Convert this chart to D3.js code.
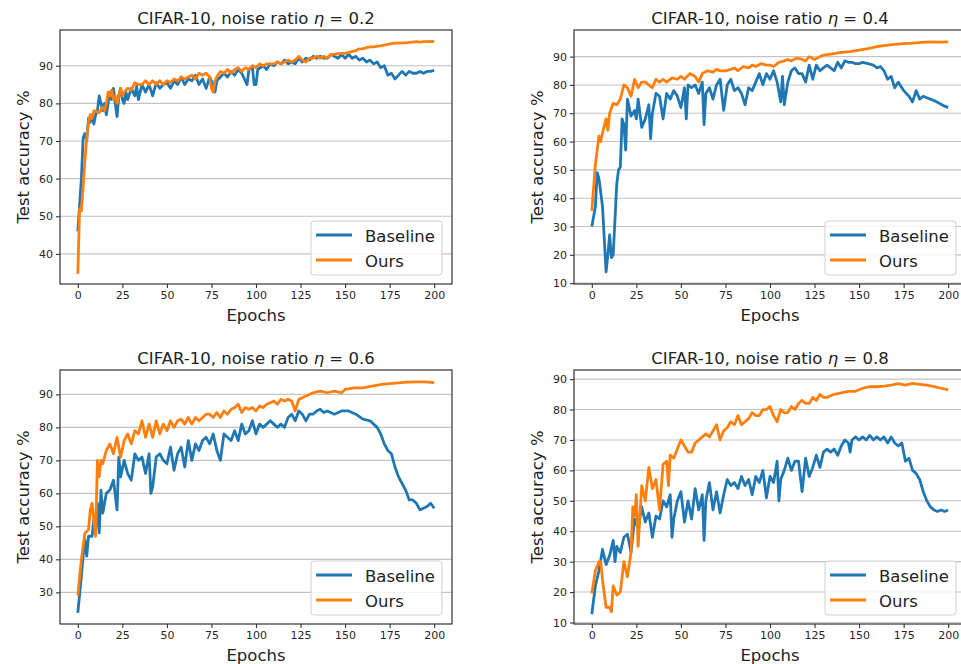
<!DOCTYPE html>
<html><head><meta charset="utf-8">
<script src="https://cdn.jsdelivr.net/npm/d3@7"></script>
<style>body{margin:0;background:#fff}text{font-family:"DejaVu Sans",sans-serif}</style>
</head><body><svg id="c" width="961" height="664"></svg>
<script>
const seriesNames = ["Baseline", "Ours"];
const noiseRatios = ["0.2", "0.4", "0.6", "0.8"];
const xTicks = [0, 25, 50, 75, 100, 125, 150, 175, 200];
const yTicks02 = [40, 50, 60, 70, 80, 90];
const yTicks04 = [10, 20, 30, 40, 50, 60, 70, 80, 90];
const yTicks06 = [30, 40, 50, 60, 70, 80, 90];
const yTicks08 = [10, 20, 30, 40, 50, 60, 70, 80, 90];

// [epoch, test accuracy %]
const base02 = [[0,46],[1,53],[2,60],[3,71],[4,72],[5,70],[6,76],[7,75],[8,77],[9,74.5],[10,77],[11,78],[12,82],[13,80],[14,78],[15,80],[16,77],[17,80],[18,83],[19,81],[20,84],[21,80],[22,76.5],[23,82],[24,84],[25,81],[26,80],[27,83],[28,81],[30,84],[32,82],[33,84.5],[34,81],[36,85],[38,83],[40,85],[42,82],[44,85.5],[46,84],[48,85],[50,85.5],[52,84],[54,86],[56,85],[58,87],[60,85],[62,86.5],[64,86],[66,87.5],[68,85],[70,86.5],[72,84],[74,87],[76,85],[77,83],[78,86],[80,87],[82,88],[84,87],[86,88.5],[88,87.5],[90,89],[92,88],[94,86],[95,85],[96,89],[98,89.5],[99,85],[100,85],[101,89],[104,90],[106,89],[108,90.5],[110,90],[112,91],[114,90.5],[116,91.5],[118,90.5],[120,91],[122,90.5],[124,92],[126,91],[128,92],[130,91.5],[132,92.5],[134,92],[136,92.5],[138,92],[140,92],[142,93],[144,92.5],[146,92],[148,93],[150,92],[152,93],[154,92],[156,92.5],[158,91.5],[160,92],[162,91],[164,91.5],[166,90.5],[168,91],[170,89.5],[172,90],[174,87.5],[176,88],[178,86.5],[180,87.5],[182,88.5],[184,87.5],[186,88.5],[188,88],[190,88],[192,88.5],[194,88],[196,88.5],[198,88.5],[200,88.8]];
const ours02 = [[0,34.7],[1,52],[2,51.5],[3,58],[4,65],[5,71],[6,75],[7,77],[8,76],[9,78],[10,78],[12,77.5],[14,79],[15,78],[16,80],[17,83],[18,82],[19,83.5],[20,81],[21,82],[22,80],[24,84],[25,82],[26,83],[28,84],[30,83.5],[32,85.5],[34,85],[36,85],[38,86],[40,85],[42,86],[44,85],[46,86],[48,85],[50,86],[52,85.5],[54,86.5],[56,86],[58,87],[60,86.5],[62,87],[64,87.5],[66,86.5],[68,88],[70,87.5],[72,88],[74,87],[75,84],[76,83],[77,86],[78,87],[80,88.5],[82,88],[84,89],[86,88],[88,89],[90,89.5],[92,88.5],[94,89.5],[96,89],[98,90],[100,89.5],[102,90.5],[104,90],[106,90.5],[108,90.5],[110,90.5],[112,91],[114,90.5],[116,91],[118,91.5],[120,91],[122,91.5],[124,92.5],[126,91.5],[128,91],[130,92],[132,92],[134,92.5],[136,92],[138,92.5],[140,92],[142,93],[144,93],[146,93.2],[148,93.3],[150,93.3],[152,93.5],[154,93.8],[156,94],[158,94.5],[160,94.5],[162,94.8],[164,95],[166,95],[168,95.2],[170,95.3],[172,95.5],[174,95.7],[176,95.9],[178,96],[180,96],[182,96.1],[184,96.1],[186,96.2],[188,96.3],[190,96.4],[192,96.3],[194,96.4],[196,96.4],[198,96.5],[200,96.4]];

const base04 = [[0,30],[2,37],[3,49],[4,47],[6,37],[8,14],[9,20],[10,27],[11,19],[12,20],[14,45],[15,50],[16,51],[17,68],[18,66],[19,57],[20,75],[22,69],[24,71],[25,68],[26,75],[28,65],[30,68],[32,73],[33,61],[34,70],[36,77],[38,76],[40,68],[42,77],[44,75],[46,78],[48,76],[50,72],[52,79],[53,68],[54,80],[56,79],[58,80],[60,77],[62,81],[63,66],[64,77],[66,79],[68,75],[70,80],[72,82],[74,71],[76,80],[78,82],[80,78],[82,79],[84,77],[86,73],[88,79],[90,78],[92,81],[94,84],[96,80],[98,84],[100,82],[102,85],[104,81],[106,74],[107,83],[108,73],[110,81],[112,85],[114,86],[116,84],[118,84],[120,81],[122,87],[124,82],[126,87],[128,85],[130,86],[132,87],[134,86],[136,85],[138,88],[140,86],[142,88.5],[144,88],[146,88],[148,87.5],[150,87.5],[152,88],[155,87.5],[158,87],[160,86],[162,86.5],[164,85],[166,82],[168,83],[170,79],[172,81],[174,79],[175,78],[178,76],[180,74],[182,78],[184,75],[186,76],[188,75.5],[190,75],[192,74.5],[195,73.5],[198,72.5],[200,72]];
const ours04 = [[0,35.5],[2,52],[4,62],[5,60],[6,63],[8,68],[9,64],[10,70],[12,73.5],[14,73],[16,75],[18,80],[20,79],[22,76],[24,82],[26,79],[28,81],[30,81],[32,80],[34,79],[36,82],[38,81],[40,82],[42,81],[45,82.5],[48,82],[50,83],[52,82],[55,84],[58,83],[60,81],[62,84],[65,85],[68,84.5],[70,85.5],[72,85],[75,85],[78,85.5],[80,86],[82,85],[85,86.5],[88,86],[90,87],[92,86.5],[95,87.5],[98,87],[100,87],[102,86.5],[105,88],[108,88.5],[110,89],[112,88.5],[115,89.5],[118,89],[120,88.5],[122,90],[125,89],[128,90],[130,90.5],[135,91],[140,91.5],[145,91.8],[150,92.3],[155,92.8],[160,93.5],[165,94],[170,94.3],[175,94.6],[180,94.8],[185,95],[190,95.2],[195,95.1],[200,95.2]];

const base06 = [[0,23.8],[2,35],[3,41],[4,46],[5,41],[6,47],[8,47],[9,52],[10,49],[11,57],[12,48],[13,61],[14,54],[16,60],[18,61],[20,64],[22,55],[23,71],[24,65],[26,70],[28,66],[30,64],[32,72],[34,70],[36,71],[38,66],[40,72],[41,60],[42,62],[44,71],[46,72],[48,70],[50,69],[52,74],[54,67],[56,72],[58,74],[60,68],[62,76],[64,70],[66,75],[68,73],[70,76],[72,77],[74,75],[76,78],[78,73],[80,70],[82,78],[84,77],[86,76],[88,79],[90,76],[92,81],[94,78],[96,79],[98,82],[100,78],[102,81],[104,80],[106,81],[108,82],[110,81],[112,80],[114,81],[116,80],[118,83],[120,84],[122,82],[124,85],[126,84],[128,82],[130,84],[132,84],[134,85],[136,85.5],[138,84.5],[140,85],[144,84],[148,85],[152,85],[156,84],[160,82.5],[164,82],[166,81],[168,80],[170,78],[172,75],[174,73],[176,72],[178,68],[180,65],[182,63],[184,61],[186,58],[188,58],[190,57],[192,55],[194,55.5],[196,56],[198,57],[200,55.5]];
const ours06 = [[0,29],[2,40],[4,48],[6,49],[7,55],[8,57],[10,47],[11,70],[12,65],[13,70],[14,69],[16,73],[18,75],[20,72],[22,77],[24,71],[26,76],[28,78],[30,75],[32,79],[34,78],[36,82],[38,77],[40,81],[42,77],[44,82],[46,78],[48,81],[50,79],[52,82],[54,80],[56,82],[58,82.5],[60,81],[62,83],[64,81],[66,83],[68,82],[70,83],[72,84],[74,84],[76,83],[78,84.5],[80,83],[82,85],[84,84],[86,85.5],[88,86],[90,87],[92,84.5],[94,86],[96,85.5],[98,86],[100,85],[102,86.5],[104,86],[106,87],[108,87.5],[110,88],[112,87],[114,88.5],[116,88],[118,88.5],[120,88],[122,85],[124,88.5],[126,89],[128,89.5],[130,90],[132,90.5],[136,91],[140,90.5],[144,91],[148,90.5],[150,91.5],[155,92],[160,92],[165,92.5],[170,93],[175,93.3],[180,93.5],[185,93.7],[190,93.8],[195,93.8],[200,93.6]];

const base08 = [[0,12.7],[2,22],[4,27],[6,34],[8,29],[10,32],[12,37],[13,30],[14,35],[16,33],[18,38],[20,39],[22,33],[24,44],[26,41],[28,48],[30,43],[32,46],[34,38],[36,45],[38,44],[40,50],[42,48],[44,52],[45,38],[46,44],[48,50],[50,53],[52,43],[54,50],[56,44],[58,54],[60,47],[62,52],[63,37],[64,50],[66,56],[68,47],[70,53],[72,46],[74,52],[76,57],[78,55],[80,56],[82,54],[84,58],[86,55],[88,57],[90,52],[92,58],[94,56],[96,60],[98,51],[100,58],[102,56],[104,63],[105,50],[106,57],[108,60],[110,64],[112,60],[114,63],[116,63],[118,53],[120,64],[122,58],[124,61],[126,65],[128,61],[130,66],[132,67],[134,66],[136,67],[138,65],[140,68],[142,70],[144,69],[145,66],[146,70],[148,71],[150,70],[152,71],[154,70],[156,71.5],[158,70],[160,71],[162,70],[164,71],[166,69],[168,71],[170,69],[172,68],[174,69],[176,63],[178,64],[180,60],[182,59],[184,57],[186,53],[188,50],[190,48],[192,47],[194,46.5],[196,47],[198,46.5],[200,47]];
const ours08 = [[0,19.5],[2,27],[4,30],[5,30],[6,24],[8,15],[10,15],[11,13.5],[12,22],[14,19],[16,20],[18,30],[20,25],[22,33],[23,48],[24,45],[25,52],[26,35],[28,55],[30,50],[32,61],[34,54],[36,57],[38,47],[40,62],[42,63],[43,55],[44,65],[46,64],[48,67],[50,70],[52,68],[54,66],[56,66],[58,69],[60,70],[62,71],[64,72],[66,71],[68,73],[70,75],[72,70],[74,73],[76,74],[78,76],[80,75],[82,78],[84,75],[86,76],[88,77],[90,79],[92,78],[94,78],[96,80],[98,80],[100,81],[102,78],[104,76],[106,80],[108,79],[110,79],[112,81],[114,80],[116,82],[118,83],[120,82],[122,82],[124,84],[126,83],[128,85],[130,84],[132,84],[136,85],[140,85.5],[144,86],[148,86],[152,87],[156,87.5],[160,87.5],[164,87.7],[168,88],[172,88.5],[176,88],[180,88.6],[184,88.3],[188,88],[192,87.5],[196,87],[200,86.5]];

const colors = ["#1f77b4", "#ff7f0e"];

const panels = [
  {eta: noiseRatios[0], data: [base02, ours02], ydom: [32, 99.5], yticks: yTicks02, x: 60, y: 30},
  {eta: noiseRatios[1], data: [base04, ours04], ydom: [9.7, 99.4], yticks: yTicks04, x: 574, y: 30},
  {eta: noiseRatios[2], data: [base06, ours06], ydom: [20.4, 97.4], yticks: yTicks06, x: 60, y: 370},
  {eta: noiseRatios[3], data: [base08, ours08], ydom: [9.5, 93], yticks: yTicks08, x: 574, y: 370}
];
const W = 392, H = 254;
const svg = d3.select("#c");
const defs = svg.append("defs");

panels.forEach((p, i) => {
  const g = svg.append("g").attr("transform", `translate(${p.x},${p.y})`);
  const x = d3.scaleLinear().domain([-10, 210]).range([0, W]);
  const y = d3.scaleLinear().domain(p.ydom).range([H, 0]);
  defs.append("clipPath").attr("id", "clip" + i).append("rect").attr("width", W).attr("height", H);

  // grid
  g.append("g").selectAll("line").data(p.yticks).join("line")
    .attr("x1", 0).attr("x2", W).attr("y1", d => y(d)).attr("y2", d => y(d))
    .attr("stroke", "#b0b0b0").attr("stroke-width", 1.1).attr("opacity", 0.75);

  const line = d3.line().x(d => x(d[0])).y(d => y(d[1]));
  p.data.forEach((s, k) => {
    g.append("path").datum(s).attr("d", line).attr("clip-path", `url(#clip${i})`)
      .attr("fill", "none").attr("stroke", colors[k]).attr("stroke-width", 2.8)
      .attr("stroke-linejoin", "round");
  });

  // axes
  const ya = g.append("g").call(d3.axisLeft(y).tickValues(p.yticks).tickSize(4).tickPadding(3));
  const xa = g.append("g").attr("transform", `translate(0,${H})`)
    .call(d3.axisBottom(x).tickValues(xTicks).tickSize(4).tickPadding(3));
  [ya, xa].forEach(a => {
    a.select(".domain").remove();
    a.selectAll("line").attr("stroke", "#333").attr("stroke-width", 1.1);
    a.selectAll("text").attr("font-size", 11).attr("fill", "#262626")
      .attr("font-family", "DejaVu Sans, sans-serif");
  });
  g.append("rect").attr("width", W).attr("height", H).attr("fill", "none")
    .attr("stroke", "#333").attr("stroke-width", 1.2);

  // title
  const t = g.append("text").attr("x", W / 2).attr("y", -6.5).attr("text-anchor", "middle")
    .attr("font-size", 16.5).attr("fill", "#222");
  t.append("tspan").text("CIFAR-10, noise ratio ");
  t.append("tspan").attr("font-style", "italic").text("η");
  t.append("tspan").text(" = " + p.eta);

  g.append("text").attr("x", W / 2).attr("y", H + 37).attr("text-anchor", "middle")
    .attr("font-size", 16.5).attr("fill", "#222").text("Epochs");
  g.append("text").attr("transform", `translate(-31,${H / 2}) rotate(-90)`)
    .attr("text-anchor", "middle").attr("font-size", 16.5).attr("fill", "#222")
    .text("Test accuracy %");

  // legend
  const lg = g.append("g").attr("transform", `translate(${W - 10 - 131},${H - 9 - 54})`);
  lg.append("rect").attr("width", 131).attr("height", 54).attr("rx", 3)
    .attr("fill", "#fff").attr("fill-opacity", 0.8).attr("stroke", "#d0d0d0").attr("stroke-width", 1);
  seriesNames.forEach((n, k) => {
    const yy = 14 + k * 25;
    lg.append("line").attr("x1", 5).attr("x2", 41).attr("y1", yy).attr("y2", yy)
      .attr("stroke", colors[k]).attr("stroke-width", 3);
    lg.append("text").attr("x", 54).attr("y", yy + 6.5).attr("font-size", 16.5)
      .attr("fill", "#222").text(n);
  });
});
</script></body></html>
